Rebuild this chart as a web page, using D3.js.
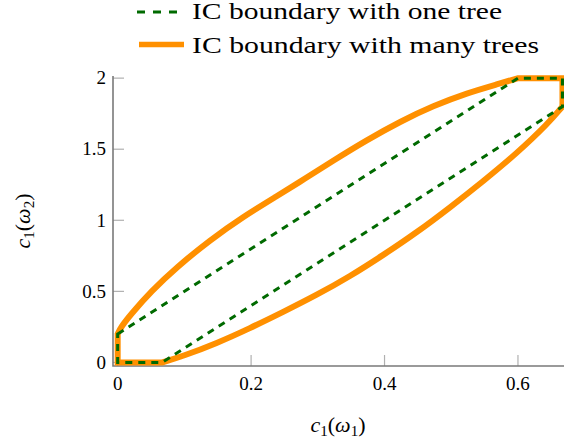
<!DOCTYPE html>
<html>
<head>
<meta charset="utf-8">
<script src="https://cdn.jsdelivr.net/npm/d3@7"></script>
<style>
  body { margin: 0; background: #fff; }
  svg { display: block; }
</style>
</head>
<body>
<div id="chart"></div>
<script>
// IC boundary with one tree (dashed polygon)
const oneTree = [
  [0, 0.2], [0.6, 2], [0.6667, 2], [0.6667, 1.8], [0.0667, 0], [0, 0]
];

// IC boundary with many trees: upper curve, lower curve
const manyUpper = [
  [0, 0.2], [0.005, 0.25], [0.02, 0.34], [0.05, 0.5], [0.0885, 0.67], [0.138, 0.86],
  [0.188, 1.025], [0.2385, 1.17], [0.28, 1.29], [0.323, 1.42], [0.3735, 1.565],
  [0.4235, 1.695], [0.473, 1.805], [0.5235, 1.895], [0.573, 1.962], [0.6, 2.0]
];
const manyCorner = [[0.6667, 2.0], [0.6667, 1.8]];
const manyLower = [
  [0.0667, 0], [0.098, 0.045], [0.1485, 0.135], [0.198, 0.24], [0.248, 0.355],
  [0.2985, 0.475], [0.348, 0.605], [0.398, 0.755], [0.4485, 0.915], [0.498, 1.09],
  [0.548, 1.275], [0.598, 1.47], [0.645, 1.68], [0.6667, 1.8]
];
const manyBase = [[0, 0]];

const xTicks = [0, 0.2, 0.4, 0.6];
const yTicks = [0, 0.5, 1, 1.5, 2];
const legendLabels = ["IC boundary with one tree", "IC boundary with many trees"];

const width = 564, height = 442;
const greenC = "#006a00", orangeC = "#ff9000";
const fontFam = "'Liberation Serif', 'DejaVu Serif', serif";

const svg = d3.select("#chart").append("svg")
  .attr("width", width)
  .attr("height", height)
  .attr("font-family", fontFam)
  .style("font-family", fontFam);

const x = d3.scaleLinear().domain([-0.007, 0.669]).range([113, 564]);
const y = d3.scaleLinear().domain([-0.025, 2.015]).range([366, 76]);

// ticks (inward) + labels
const tickLen = 11;
const gx = svg.append("g");
gx.selectAll("line").data(xTicks).join("line")
  .attr("x1", d => x(d)).attr("x2", d => x(d))
  .attr("y1", y.range()[0]).attr("y2", y.range()[0] - tickLen)
  .attr("stroke", "#b0b0b0").attr("stroke-width", 1.2);
gx.selectAll("text").data(xTicks).join("text")
  .attr("x", d => x(d)).attr("y", 389.5)
  .attr("text-anchor", "middle")
  .style("font-size", "19px")
  .text(d => d);

const gy = svg.append("g");
gy.selectAll("line").data(yTicks).join("line")
  .attr("x1", x.range()[0]).attr("x2", x.range()[0] + tickLen)
  .attr("y1", d => y(d)).attr("y2", d => y(d))
  .attr("stroke", "#b0b0b0").attr("stroke-width", 1.2);
gy.selectAll("text").data(yTicks).join("text")
  .attr("x", 106).attr("y", d => y(d))
  .attr("dy", "0.33em")
  .attr("text-anchor", "end")
  .style("font-size", "19px")
  .text(d => d);

// axis lines (left + bottom only)
svg.append("path")
  .attr("d", `M${x.range()[0]},${y.range()[1]}V${y.range()[0]}H${x.range()[1]}`)
  .attr("fill", "none")
  .attr("stroke", "#7a7a7a")
  .attr("stroke-width", 1.6);

// many trees: one closed path, curves smoothed
const curveLine = d3.line().x(d => x(d[0])).y(d => y(d[1])).curve(d3.curveBasis);
const lowerDesc = manyLower.slice().reverse();
let dMany = curveLine(manyUpper);
dMany += manyCorner.map(p => `L${x(p[0])},${y(p[1])}`).join("");
dMany += curveLine(lowerDesc).replace(/^M/, "L");
dMany += manyBase.map(p => `L${x(p[0])},${y(p[1])}`).join("") + "Z";

svg.append("path")
  .attr("d", dMany)
  .attr("fill", "none")
  .attr("stroke", orangeC)
  .attr("stroke-width", 6)
  .attr("stroke-linejoin", "miter");

const straight = d3.line().x(d => x(d[0])).y(d => y(d[1]));
svg.append("path")
  .attr("d", straight(oneTree) + "Z")
  .attr("fill", "none")
  .attr("stroke", greenC)
  .attr("stroke-width", 3)
  .attr("stroke-dasharray", "7,6");

// legend
const legend = svg.append("g");
legend.append("line")
  .attr("x1", 137).attr("x2", 181).attr("y1", 12).attr("y2", 12)
  .attr("stroke", greenC).attr("stroke-width", 3).attr("stroke-dasharray", "8,8");
legend.append("line")
  .attr("x1", 139).attr("x2", 184).attr("y1", 44.5).attr("y2", 44.5)
  .attr("stroke", orangeC).attr("stroke-width", 5.5);
legend.selectAll("text").data(legendLabels).join("text")
  .attr("x", 192)
  .attr("y", (d, i) => i === 0 ? 18.5 : 53)
  .style("font-size", "23px")
  .attr("textLength", (d, i) => i === 0 ? 310 : 347)
  .attr("lengthAdjust", "spacingAndGlyphs")
  .text(d => d);

// axis labels
function mathLabel(g, sub1, sub2) {
  const t = g.append("text").style("font-size", "22px");
  t.append("tspan").attr("font-style", "italic").text("c");
  t.append("tspan").attr("dy", 4).style("font-size", "15px").text(sub1);
  t.append("tspan").attr("dy", -4).text("(");
  t.append("tspan").attr("font-style", "italic").text("ω");
  t.append("tspan").attr("dy", 4).style("font-size", "15px").text(sub2);
  t.append("tspan").attr("dy", -4).text(")");
  return t;
}
mathLabel(svg.append("g"), "1", "1")
  .attr("x", 338).attr("y", 432).attr("text-anchor", "middle");
mathLabel(svg.append("g").attr("transform", "translate(30,221) rotate(-90)"), "1", "2")
  .attr("x", 0).attr("y", 0).attr("text-anchor", "middle");
</script>
</body>
</html>
